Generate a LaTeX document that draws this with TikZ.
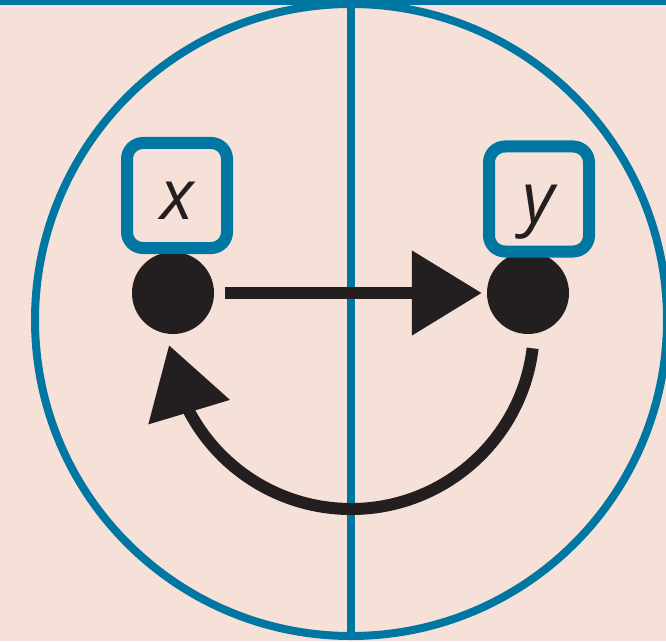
\documentclass[tikz,border=0pt]{standalone}
\usepackage{fontspec}
\newfontfamily\labfont{Open Sans}
\usetikzlibrary{arrows.meta,bending}
\definecolor{bg}{RGB}{245,225,216}
\definecolor{ring}{RGB}{0,118,163}
\definecolor{ink}{RGB}{35,31,32}
\begin{document}
\begin{tikzpicture}[x=1pt,y=1pt,
  dot/.style={circle,fill=ink,minimum size=82pt,inner sep=0pt},
  varbox/.style={draw=ring,line width=12pt,rounded corners=16pt,minimum width=100pt,minimum height=105pt,inner sep=0pt,text height=60pt,text depth=12pt,font=\labfont\itshape\fontsize{70}{70}\selectfont,text=ink},
  conn/.style={draw=ink,line width=12pt,-{Triangle[length=70pt,width=82pt]}}]
\fill[bg] (0,0) rectangle (666,641);
\useasboundingbox (0,0) rectangle (666,641);
\node[circle,draw=ring,line width=8pt,minimum size=632pt,inner sep=0pt] (ring) at (351,321) {};
\fill[ring] (0,636) rectangle (666,641);
\draw[ring,line width=8pt] (ring.north) -- (ring.south);
\node[dot] (x) at (173,348) {};
\node[dot] (y) at (528,348) {};
\node[varbox] (bx) at (177,445.5) {x};
\node[varbox] (by) at (539,442) {y};
\coordinate (c) at (351,315);
\draw[conn,shorten <=11pt,shorten >=5pt] (x) -- (y);
\draw[conn] ([shift={(-7:183)}]c) arc[start angle=-7,end angle=-174,radius=183];
\end{tikzpicture}
\end{document}
